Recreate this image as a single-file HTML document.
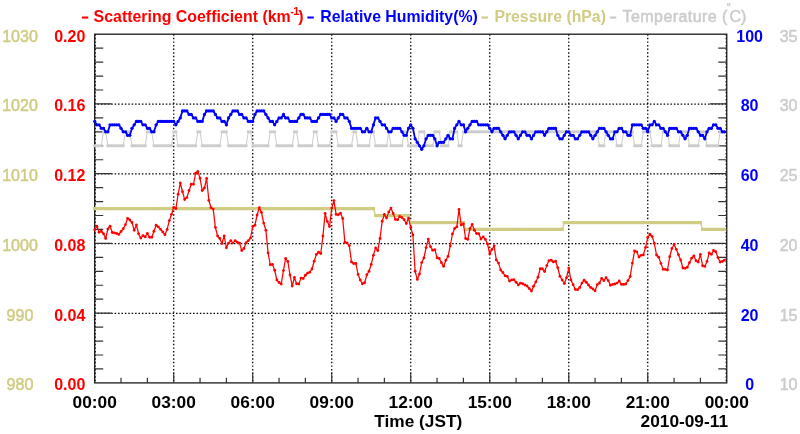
<!DOCTYPE html>
<html lang="en"><head><meta charset="utf-8"><title>Scattering Coefficient 2010-09-11</title>
<style>
html,body{margin:0;padding:0;background:#fff;}
body{width:800px;height:434px;overflow:hidden;}
svg{display:block;will-change:transform;}
text{font-family:"Liberation Sans",sans-serif;}
text:not([font-size]){font-size:16px;}
.b{font-weight:bold;}
.r{stroke-width:0.55px;}
text.x{font-size:17.3px;}
text.y{font-size:17px;}
tspan.d{font-size:11px;font-weight:bold;stroke-width:0.9px;}
</style></head><body>
<svg width="800" height="434" viewBox="0 0 800 434">
<rect width="800" height="434" fill="#fff"/>
<defs>
<marker id="mg" markerWidth="4" markerHeight="4" refX="2" refY="2" markerUnits="userSpaceOnUse"><rect x="0.6" y="0.6" width="2.8" height="2.8" fill="#cccccc"/></marker>
<marker id="mk" markerWidth="4" markerHeight="4" refX="2" refY="2" markerUnits="userSpaceOnUse"><rect x="0.35" y="0.35" width="3.3" height="3.3" fill="#d0cc84"/></marker>
<marker id="mb" markerWidth="4" markerHeight="4" refX="2" refY="2" markerUnits="userSpaceOnUse"><circle cx="2" cy="2" r="1.65" fill="#0000ff"/></marker>
<marker id="mr" markerWidth="4" markerHeight="4" refX="2" refY="2" markerUnits="userSpaceOnUse"><circle cx="2" cy="2" r="1.4" fill="#ff0000"/></marker>
</defs>
<path d="M95.2 34.2V382.9M173.71 34.2V382.9M252.71 34.2V382.9M331.72 34.2V382.9M410.72 34.2V382.9M489.73 34.2V382.9M568.74 34.2V382.9M647.74 34.2V382.9M726.25 34.2V382.9" stroke="#000" stroke-width="1.3" stroke-dasharray="1.45 2.15" fill="none"/>
<path d="M94.7 313.31H726.75M94.7 243.57H726.75M94.7 173.83H726.75M94.7 104.09H726.75" stroke="#000" stroke-width="1.3" stroke-dasharray="1.5 1.91" stroke-dashoffset="-2.88" fill="none"/>
<rect x="94.7" y="34.2" width="632.05" height="348.7" fill="none" stroke="#1a1a1a" stroke-width="1.3"/>
<path d="M94.7 368.95h8.5M726.75 368.95h-8.5M94.7 355h8.5M726.75 355h-8.5M94.7 341.06h8.5M726.75 341.06h-8.5M94.7 327.11h8.5M726.75 327.11h-8.5M94.7 313.16h17M726.75 313.16h-17M94.7 299.21h8.5M726.75 299.21h-8.5M94.7 285.26h8.5M726.75 285.26h-8.5M94.7 271.32h8.5M726.75 271.32h-8.5M94.7 257.37h8.5M726.75 257.37h-8.5M94.7 243.42h17M726.75 243.42h-17M94.7 229.47h8.5M726.75 229.47h-8.5M94.7 215.52h8.5M726.75 215.52h-8.5M94.7 201.58h8.5M726.75 201.58h-8.5M94.7 187.63h8.5M726.75 187.63h-8.5M94.7 173.68h17M726.75 173.68h-17M94.7 159.73h8.5M726.75 159.73h-8.5M94.7 145.78h8.5M726.75 145.78h-8.5M94.7 131.84h8.5M726.75 131.84h-8.5M94.7 117.89h8.5M726.75 117.89h-8.5M94.7 103.94h17M726.75 103.94h-17M94.7 89.99h8.5M726.75 89.99h-8.5M94.7 76.04h8.5M726.75 76.04h-8.5M94.7 62.1h8.5M726.75 62.1h-8.5M94.7 48.15h8.5M726.75 48.15h-8.5M121.04 382.9v-5.2M147.37 382.9v-5.2M173.71 382.9v-10.5M200.04 382.9v-5.2M226.38 382.9v-5.2M252.71 382.9v-10.5M279.05 382.9v-5.2M305.38 382.9v-5.2M331.72 382.9v-10.5M358.05 382.9v-5.2M384.39 382.9v-5.2M410.72 382.9v-10.5M437.06 382.9v-5.2M463.4 382.9v-5.2M489.73 382.9v-10.5M516.07 382.9v-5.2M542.4 382.9v-5.2M568.74 382.9v-10.5M595.07 382.9v-5.2M621.41 382.9v-5.2M647.74 382.9v-10.5M674.08 382.9v-5.2M700.41 382.9v-5.2" stroke="#333" stroke-width="1.2" fill="none"/>
<polyline points="94.7,145.78 96.89,145.78 99.09,145.78 101.28,145.78 103.48,131.84 105.67,131.84 107.87,145.78 110.06,145.78 112.26,145.78 114.45,145.78 116.65,145.78 118.84,145.78 121.04,145.78 123.23,145.78 125.42,131.84 127.62,131.84 129.81,131.84 132.01,145.78 134.2,145.78 136.4,145.78 138.59,145.78 140.79,145.78 142.98,145.78 145.18,145.78 147.37,131.84 149.57,131.84 151.76,131.84 153.95,145.78 156.15,145.78 158.34,145.78 160.54,145.78 162.73,145.78 164.93,145.78 167.12,145.78 169.32,145.78 171.51,145.78 173.71,131.84 175.9,131.84 178.1,145.78 180.29,145.78 182.48,145.78 184.68,145.78 186.87,145.78 189.07,145.78 191.26,145.78 193.46,145.78 195.65,145.78 197.85,131.84 200.04,131.84 202.24,145.78 204.43,145.78 206.63,145.78 208.82,145.78 211.01,145.78 213.21,145.78 215.4,145.78 217.6,145.78 219.79,145.78 221.99,131.84 224.18,131.84 226.38,131.84 228.57,145.78 230.77,145.78 232.96,145.78 235.16,145.78 237.35,145.78 239.54,145.78 241.74,145.78 243.93,145.78 246.13,145.78 248.32,131.84 250.52,131.84 252.71,145.78 254.91,145.78 257.1,145.78 259.3,145.78 261.49,145.78 263.69,145.78 265.88,145.78 268.07,145.78 270.27,131.84 272.46,131.84 274.66,131.84 276.85,145.78 279.05,145.78 281.24,145.78 283.44,145.78 285.63,145.78 287.83,145.78 290.02,145.78 292.22,145.78 294.41,131.84 296.6,131.84 298.8,145.78 300.99,145.78 303.19,145.78 305.38,145.78 307.58,145.78 309.77,145.78 311.97,145.78 314.16,131.84 316.36,131.84 318.55,145.78 320.75,145.78 322.94,145.78 325.13,145.78 327.33,145.78 329.52,145.78 331.72,131.84 333.91,131.84 336.11,131.84 338.3,145.78 340.5,145.78 342.69,145.78 344.89,145.78 347.08,145.78 349.28,145.78 351.47,145.78 353.66,131.84 355.86,131.84 358.05,145.78 360.25,145.78 362.44,145.78 364.64,145.78 366.83,145.78 369.03,145.78 371.22,131.84 373.42,131.84 375.61,145.78 377.81,145.78 380,145.78 382.19,145.78 384.39,145.78 386.58,145.78 388.78,131.84 390.97,145.78 393.17,145.78 395.36,145.78 397.56,145.78 399.75,145.78 401.95,145.78 404.14,131.84 406.34,131.84 408.53,145.78 410.72,145.78 412.92,145.78 415.11,145.78 417.31,145.78 419.5,131.84 421.7,131.84 423.89,131.84 426.09,145.78 428.28,145.78 430.48,145.78 432.67,145.78 434.87,131.84 437.06,131.84 439.26,131.84 441.45,145.78 443.64,145.78 445.84,145.78 448.03,145.78 450.23,131.84 452.42,131.84 454.62,131.84 456.81,131.84 459.01,145.78 461.2,145.78 463.4,131.84 465.59,131.84 467.79,131.84 469.98,131.84 472.17,131.84 474.37,131.84 476.56,131.84 478.76,131.84 480.95,131.84 483.15,131.84 485.34,131.84 487.54,131.84 489.73,131.84 491.93,131.84 494.12,131.84 496.32,131.84 498.51,131.84 500.7,131.84 502.9,131.84 505.09,131.84 507.29,131.84 509.48,131.84 511.68,131.84 513.87,131.84 516.07,131.84 518.26,131.84 520.46,131.84 522.65,131.84 524.85,131.84 527.04,131.84 529.23,131.84 531.43,131.84 533.62,131.84 535.82,131.84 538.01,131.84 540.21,131.84 542.4,131.84 544.6,131.84 546.79,131.84 548.99,131.84 551.18,131.84 553.38,131.84 555.57,131.84 557.76,131.84 559.96,131.84 562.15,131.84 564.35,131.84 566.54,131.84 568.74,131.84 570.93,131.84 573.13,131.84 575.32,131.84 577.52,131.84 579.71,131.84 581.91,131.84 584.1,131.84 586.29,131.84 588.49,131.84 590.68,131.84 592.88,131.84 595.07,131.84 597.27,131.84 599.46,145.78 601.66,145.78 603.85,145.78 606.05,131.84 608.24,131.84 610.44,131.84 612.63,131.84 614.82,131.84 617.02,145.78 619.21,145.78 621.41,145.78 623.6,131.84 625.8,131.84 627.99,131.84 630.19,131.84 632.38,131.84 634.58,145.78 636.77,145.78 638.97,145.78 641.16,145.78 643.35,131.84 645.55,131.84 647.74,131.84 649.94,131.84 652.13,145.78 654.33,145.78 656.52,145.78 658.72,145.78 660.91,145.78 663.11,131.84 665.3,131.84 667.5,131.84 669.69,145.78 671.88,145.78 674.08,145.78 676.27,145.78 678.47,145.78 680.66,131.84 682.86,131.84 685.05,131.84 687.25,131.84 689.44,145.78 691.64,145.78 693.83,145.78 696.03,145.78 698.22,145.78 700.41,131.84 702.61,131.84 704.8,131.84 707,145.78 709.19,145.78 711.39,145.78 713.58,145.78 715.78,145.78 717.97,145.78 720.17,131.84 722.36,131.84 724.56,131.84" fill="none" stroke="#cccccc" stroke-width="1.0" stroke-linejoin="round" marker-start="url(#mg)" marker-mid="url(#mg)" marker-end="url(#mg)"/>
<polyline points="94.7,208.55 96.89,208.55 99.09,208.55 101.28,208.55 103.48,208.55 105.67,208.55 107.87,208.55 110.06,208.55 112.26,208.55 114.45,208.55 116.65,208.55 118.84,208.55 121.04,208.55 123.23,208.55 125.42,208.55 127.62,208.55 129.81,208.55 132.01,208.55 134.2,208.55 136.4,208.55 138.59,208.55 140.79,208.55 142.98,208.55 145.18,208.55 147.37,208.55 149.57,208.55 151.76,208.55 153.95,208.55 156.15,208.55 158.34,208.55 160.54,208.55 162.73,208.55 164.93,208.55 167.12,208.55 169.32,208.55 171.51,208.55 173.71,208.55 175.9,208.55 178.1,208.55 180.29,208.55 182.48,208.55 184.68,208.55 186.87,208.55 189.07,208.55 191.26,208.55 193.46,208.55 195.65,208.55 197.85,208.55 200.04,208.55 202.24,208.55 204.43,208.55 206.63,208.55 208.82,208.55 211.01,208.55 213.21,208.55 215.4,208.55 217.6,208.55 219.79,208.55 221.99,208.55 224.18,208.55 226.38,208.55 228.57,208.55 230.77,208.55 232.96,208.55 235.16,208.55 237.35,208.55 239.54,208.55 241.74,208.55 243.93,208.55 246.13,208.55 248.32,208.55 250.52,208.55 252.71,208.55 254.91,208.55 257.1,208.55 259.3,208.55 261.49,208.55 263.69,208.55 265.88,208.55 268.07,208.55 270.27,208.55 272.46,208.55 274.66,208.55 276.85,208.55 279.05,208.55 281.24,208.55 283.44,208.55 285.63,208.55 287.83,208.55 290.02,208.55 292.22,208.55 294.41,208.55 296.6,208.55 298.8,208.55 300.99,208.55 303.19,208.55 305.38,208.55 307.58,208.55 309.77,208.55 311.97,208.55 314.16,208.55 316.36,208.55 318.55,208.55 320.75,208.55 322.94,208.55 325.13,208.55 327.33,208.55 329.52,208.55 331.72,208.55 333.91,208.55 336.11,208.55 338.3,208.55 340.5,208.55 342.69,208.55 344.89,208.55 347.08,208.55 349.28,208.55 351.47,208.55 353.66,208.55 355.86,208.55 358.05,208.55 360.25,208.55 362.44,208.55 364.64,208.55 366.83,208.55 369.03,208.55 371.22,208.55 373.42,208.55 375.61,215.52 377.81,215.52 380,215.52 382.19,215.52 384.39,215.52 386.58,215.52 388.78,215.52 390.97,215.52 393.17,215.52 395.36,215.52 397.56,215.52 399.75,215.52 401.95,215.52 404.14,215.52 406.34,215.52 408.53,215.52 410.72,222.5 412.92,222.5 415.11,222.5 417.31,222.5 419.5,222.5 421.7,222.5 423.89,222.5 426.09,222.5 428.28,222.5 430.48,222.5 432.67,222.5 434.87,222.5 437.06,222.5 439.26,222.5 441.45,222.5 443.64,222.5 445.84,222.5 448.03,222.5 450.23,222.5 452.42,222.5 454.62,222.5 456.81,222.5 459.01,222.5 461.2,222.5 463.4,222.5 465.59,229.47 467.79,229.47 469.98,229.47 472.17,229.47 474.37,229.47 476.56,229.47 478.76,229.47 480.95,229.47 483.15,229.47 485.34,229.47 487.54,229.47 489.73,229.47 491.93,229.47 494.12,229.47 496.32,229.47 498.51,229.47 500.7,229.47 502.9,229.47 505.09,229.47 507.29,229.47 509.48,229.47 511.68,229.47 513.87,229.47 516.07,229.47 518.26,229.47 520.46,229.47 522.65,229.47 524.85,229.47 527.04,229.47 529.23,229.47 531.43,229.47 533.62,229.47 535.82,229.47 538.01,229.47 540.21,229.47 542.4,229.47 544.6,229.47 546.79,229.47 548.99,229.47 551.18,229.47 553.38,229.47 555.57,229.47 557.76,229.47 559.96,229.47 562.15,229.47 564.35,222.5 566.54,222.5 568.74,222.5 570.93,222.5 573.13,222.5 575.32,222.5 577.52,222.5 579.71,222.5 581.91,222.5 584.1,222.5 586.29,222.5 588.49,222.5 590.68,222.5 592.88,222.5 595.07,222.5 597.27,222.5 599.46,222.5 601.66,222.5 603.85,222.5 606.05,222.5 608.24,222.5 610.44,222.5 612.63,222.5 614.82,222.5 617.02,222.5 619.21,222.5 621.41,222.5 623.6,222.5 625.8,222.5 627.99,222.5 630.19,222.5 632.38,222.5 634.58,222.5 636.77,222.5 638.97,222.5 641.16,222.5 643.35,222.5 645.55,222.5 647.74,222.5 649.94,222.5 652.13,222.5 654.33,222.5 656.52,222.5 658.72,222.5 660.91,222.5 663.11,222.5 665.3,222.5 667.5,222.5 669.69,222.5 671.88,222.5 674.08,222.5 676.27,222.5 678.47,222.5 680.66,222.5 682.86,222.5 685.05,222.5 687.25,222.5 689.44,222.5 691.64,222.5 693.83,222.5 696.03,222.5 698.22,222.5 700.41,222.5 702.61,229.47 704.8,229.47 707,229.47 709.19,229.47 711.39,229.47 713.58,229.47 715.78,229.47 717.97,229.47 720.17,229.47 722.36,229.47 724.56,229.47" fill="none" stroke="#d0cc84" stroke-width="1.3" stroke-linejoin="round" marker-start="url(#mk)" marker-mid="url(#mk)" marker-end="url(#mk)"/>
<polyline points="94.7,121.38 96.89,124.86 99.09,124.86 101.28,128.35 103.48,128.35 105.67,131.84 107.87,131.84 110.06,124.86 112.26,124.86 114.45,124.86 116.65,124.86 118.84,124.86 121.04,128.35 123.23,131.84 125.42,131.84 127.62,135.32 129.81,135.32 132.01,128.35 134.2,124.86 136.4,121.38 138.59,121.38 140.79,121.38 142.98,124.86 145.18,124.86 147.37,128.35 149.57,128.35 151.76,131.84 153.95,131.84 156.15,124.86 158.34,121.38 160.54,121.38 162.73,121.38 164.93,121.38 167.12,121.38 169.32,121.38 171.51,121.38 173.71,121.38 175.9,124.86 178.1,121.38 180.29,117.89 182.48,110.91 184.68,110.91 186.87,110.91 189.07,114.4 191.26,114.4 193.46,117.89 195.65,117.89 197.85,121.38 200.04,121.38 202.24,121.38 204.43,114.4 206.63,110.91 208.82,110.91 211.01,110.91 213.21,110.91 215.4,114.4 217.6,117.89 219.79,117.89 221.99,121.38 224.18,121.38 226.38,124.86 228.57,117.89 230.77,114.4 232.96,110.91 235.16,110.91 237.35,110.91 239.54,114.4 241.74,114.4 243.93,117.89 246.13,117.89 248.32,121.38 250.52,121.38 252.71,121.38 254.91,114.4 257.1,110.91 259.3,110.91 261.49,110.91 263.69,110.91 265.88,114.4 268.07,117.89 270.27,121.38 272.46,121.38 274.66,124.86 276.85,121.38 279.05,117.89 281.24,117.89 283.44,114.4 285.63,117.89 287.83,117.89 290.02,121.38 292.22,121.38 294.41,121.38 296.6,121.38 298.8,117.89 300.99,114.4 303.19,114.4 305.38,117.89 307.58,117.89 309.77,117.89 311.97,121.38 314.16,121.38 316.36,121.38 318.55,117.89 320.75,114.4 322.94,114.4 325.13,114.4 327.33,114.4 329.52,114.4 331.72,117.89 333.91,117.89 336.11,121.38 338.3,117.89 340.5,114.4 342.69,114.4 344.89,117.89 347.08,117.89 349.28,121.38 351.47,128.35 353.66,128.35 355.86,128.35 358.05,128.35 360.25,128.35 362.44,131.84 364.64,131.84 366.83,128.35 369.03,131.84 371.22,131.84 373.42,124.86 375.61,117.89 377.81,117.89 380,121.38 382.19,124.86 384.39,124.86 386.58,128.35 388.78,131.84 390.97,131.84 393.17,128.35 395.36,128.35 397.56,128.35 399.75,128.35 401.95,131.84 404.14,135.32 406.34,135.32 408.53,128.35 410.72,124.86 412.92,128.35 415.11,138.81 417.31,142.3 419.5,145.78 421.7,149.27 423.89,145.78 426.09,138.81 428.28,135.32 430.48,135.32 432.67,135.32 434.87,138.81 437.06,145.78 439.26,142.3 441.45,142.3 443.64,142.3 445.84,138.81 448.03,135.32 450.23,138.81 452.42,138.81 454.62,128.35 456.81,124.86 459.01,121.38 461.2,124.86 463.4,124.86 465.59,131.84 467.79,128.35 469.98,124.86 472.17,121.38 474.37,121.38 476.56,121.38 478.76,124.86 480.95,124.86 483.15,124.86 485.34,124.86 487.54,124.86 489.73,128.35 491.93,131.84 494.12,128.35 496.32,128.35 498.51,128.35 500.7,131.84 502.9,135.32 505.09,138.81 507.29,135.32 509.48,131.84 511.68,131.84 513.87,131.84 516.07,135.32 518.26,138.81 520.46,135.32 522.65,131.84 524.85,131.84 527.04,135.32 529.23,135.32 531.43,138.81 533.62,135.32 535.82,131.84 538.01,131.84 540.21,131.84 542.4,131.84 544.6,135.32 546.79,131.84 548.99,128.35 551.18,128.35 553.38,128.35 555.57,128.35 557.76,135.32 559.96,138.81 562.15,138.81 564.35,135.32 566.54,131.84 568.74,131.84 570.93,135.32 573.13,135.32 575.32,138.81 577.52,138.81 579.71,135.32 581.91,131.84 584.1,131.84 586.29,131.84 588.49,131.84 590.68,135.32 592.88,138.81 595.07,135.32 597.27,131.84 599.46,128.35 601.66,128.35 603.85,128.35 606.05,131.84 608.24,135.32 610.44,138.81 612.63,138.81 614.82,131.84 617.02,131.84 619.21,128.35 621.41,128.35 623.6,131.84 625.8,131.84 627.99,135.32 630.19,135.32 632.38,124.86 634.58,124.86 636.77,124.86 638.97,124.86 641.16,124.86 643.35,128.35 645.55,128.35 647.74,131.84 649.94,124.86 652.13,124.86 654.33,121.38 656.52,124.86 658.72,124.86 660.91,128.35 663.11,128.35 665.3,131.84 667.5,135.32 669.69,128.35 671.88,128.35 674.08,128.35 676.27,128.35 678.47,131.84 680.66,131.84 682.86,135.32 685.05,138.81 687.25,135.32 689.44,128.35 691.64,128.35 693.83,128.35 696.03,128.35 698.22,131.84 700.41,135.32 702.61,135.32 704.8,138.81 707,131.84 709.19,128.35 711.39,128.35 713.58,124.86 715.78,124.86 717.97,128.35 720.17,128.35 722.36,131.84 724.56,131.84" fill="none" stroke="#0000ff" stroke-width="1.8" stroke-linejoin="round" marker-start="url(#mb)" marker-mid="url(#mb)" marker-end="url(#mb)"/>
<polyline points="94.7,229.75 96.89,226.25 99.09,232.25 101.28,231.25 103.48,233.75 105.67,238.5 107.87,229 110.06,226.25 112.26,232.5 114.45,232.9 116.65,233.5 118.84,234.4 121.04,231.5 123.23,228.75 125.42,224.75 127.62,218.5 129.81,220 132.01,222.5 134.2,230.25 136.4,225 138.59,233.75 140.79,238.1 142.98,235.6 145.18,236.9 147.37,233.5 149.57,237.25 151.76,237.25 153.95,231.25 156.15,225.25 158.34,226.9 160.54,229.4 162.73,231.9 164.93,234.75 167.12,229.4 169.32,220.6 171.51,214.3 173.71,207.5 175.9,208.5 178.1,194.25 180.29,183 182.48,191.75 184.68,199.5 186.87,197.6 189.07,190.5 191.26,184.25 193.46,184.25 195.65,173.25 197.85,171.4 200.04,178.25 202.24,190.5 204.43,188 206.63,178.5 208.82,200.3 211.01,207.7 213.21,209.1 215.4,227.5 217.6,236 219.79,238.5 221.99,243.5 224.18,236 226.38,247.75 228.57,243.1 230.77,240.6 232.96,243.1 235.16,240.6 237.35,242.25 239.54,243.1 241.74,250.6 243.93,248.5 246.13,242.75 248.32,240.6 250.52,238.1 252.71,226.5 254.91,225.25 257.1,215 259.3,207.75 261.49,212.5 263.69,223.1 265.88,230.25 268.07,252.9 270.27,264.75 272.46,264.4 274.66,270.25 276.85,280 279.05,282.5 281.24,284 283.44,270.6 285.63,258.5 287.83,261.5 290.02,275 292.22,286 294.41,277.5 296.6,283.75 298.8,284 300.99,278.1 303.19,278.5 305.38,275.25 307.58,273.1 309.77,272.25 311.97,269 314.16,261.25 316.36,254.4 318.55,252.25 320.75,253.5 322.94,236 325.13,213.5 327.33,221.5 329.52,226.5 331.72,208.1 333.91,200.6 336.11,214.4 338.3,214.75 340.5,213.1 342.69,218.5 344.89,242.4 347.08,242.9 349.28,245.6 351.47,261.9 353.66,263.5 355.86,263.5 358.05,274.4 360.25,280 362.44,283.75 364.64,282.75 366.83,274.75 369.03,271.25 371.22,264.4 373.42,255.25 375.61,247.9 377.81,250.6 380,238.5 382.19,221.25 384.39,214.4 386.58,218.1 388.78,211.9 390.97,208.1 393.17,213.5 395.36,219.4 397.56,219.75 399.75,216.5 401.95,217.6 404.14,219.75 406.34,223.6 408.53,218.1 410.72,227.5 412.92,235 415.11,271.25 417.31,279.4 419.5,274 421.7,262.6 423.89,258 426.09,247.6 428.28,239.1 430.48,246.7 432.67,250.25 434.87,249.6 437.06,257.75 439.26,258.5 441.45,262.75 443.64,266.25 445.84,260.25 448.03,256.5 450.23,245.8 452.42,234 454.62,228.5 456.81,226.9 459.01,209.4 461.2,225 463.4,224 465.59,238.5 467.79,239.4 469.98,228.75 472.17,224.4 474.37,230.25 476.56,233.5 478.76,233.75 480.95,239 483.15,236.9 485.34,239.4 487.54,244 489.73,254 491.93,249.4 494.12,246 496.32,260 498.51,263.1 500.7,270 502.9,272.5 505.09,275.8 507.29,276.4 509.48,281.1 511.68,279.9 513.87,279.6 516.07,282.25 518.26,284.9 520.46,283.1 522.65,283.75 524.85,285 527.04,286 529.23,288.5 531.43,291 533.62,286.25 535.82,281.9 538.01,277.25 540.21,268.75 542.4,268.75 544.6,271.5 546.79,265.6 548.99,260.6 551.18,260.25 553.38,261.9 555.57,261.25 557.76,267.75 559.96,276.25 562.15,280 564.35,283.5 566.54,277.75 568.74,268.1 570.93,280 573.13,284.75 575.32,289.4 577.52,289.75 579.71,287.5 581.91,283.1 584.1,280.25 586.29,282.25 588.49,285 590.68,287.5 592.88,289 595.07,290.8 597.27,284.6 599.46,283 601.66,278.3 603.85,280.6 606.05,277.75 608.24,280.6 610.44,285.25 612.63,284.4 614.82,284 617.02,283.1 619.21,281 621.41,284.4 623.6,284.4 625.8,284 627.99,280.6 630.19,276.5 632.38,263.1 634.58,251 636.77,251.8 638.97,257.1 641.16,255.3 643.35,254.9 645.55,247.4 647.74,237.6 649.94,234.25 652.13,236.4 654.33,243.3 656.52,255 658.72,257.25 660.91,263.4 663.11,269.3 665.3,269.45 667.5,270 669.69,256.75 671.88,248.5 674.08,244.45 676.27,249.3 678.47,254.75 680.66,260 682.86,268 685.05,268.3 687.25,267.25 689.44,262.7 691.64,258.2 693.83,255.9 696.03,260.75 698.22,262 700.41,254.5 702.61,265.75 704.8,266.4 707,261.4 709.19,253 711.39,254.25 713.58,250.5 715.78,251.75 717.97,257.6 720.17,262 722.36,261.4 724.56,260.1" fill="none" stroke="#ff0000" stroke-width="1.25" stroke-linejoin="round" marker-start="url(#mr)" marker-mid="url(#mr)" marker-end="url(#mr)"/>
<text class="r y" transform="translate(20 390) scale(0.945 1)" text-anchor="middle" fill="#d0cc84" stroke="#d0cc84">980</text>
<text class="b y" transform="translate(69.8 390) scale(0.945 1)" text-anchor="middle" fill="#ff0000">0.00</text>
<text class="b y" transform="translate(749.6 390) scale(0.945 1)" text-anchor="middle" fill="#0000ff">0</text>
<text class="r y" transform="translate(788.6 390) scale(0.945 1)" text-anchor="middle" fill="#cccccc" stroke="#cccccc">10</text>
<text class="r y" transform="translate(20 321.11) scale(0.945 1)" text-anchor="middle" fill="#d0cc84" stroke="#d0cc84">990</text>
<text class="b y" transform="translate(69.8 321.11) scale(0.945 1)" text-anchor="middle" fill="#ff0000">0.04</text>
<text class="b y" transform="translate(749.6 321.11) scale(0.945 1)" text-anchor="middle" fill="#0000ff">20</text>
<text class="r y" transform="translate(788.6 321.11) scale(0.945 1)" text-anchor="middle" fill="#cccccc" stroke="#cccccc">15</text>
<text class="r y" transform="translate(20 251.22) scale(0.945 1)" text-anchor="middle" fill="#d0cc84" stroke="#d0cc84">1000</text>
<text class="b y" transform="translate(69.8 251.22) scale(0.945 1)" text-anchor="middle" fill="#ff0000">0.08</text>
<text class="b y" transform="translate(749.6 251.22) scale(0.945 1)" text-anchor="middle" fill="#0000ff">40</text>
<text class="r y" transform="translate(788.6 251.22) scale(0.945 1)" text-anchor="middle" fill="#cccccc" stroke="#cccccc">20</text>
<text class="r y" transform="translate(20 180.98) scale(0.945 1)" text-anchor="middle" fill="#d0cc84" stroke="#d0cc84">1010</text>
<text class="b y" transform="translate(69.8 180.98) scale(0.945 1)" text-anchor="middle" fill="#ff0000">0.12</text>
<text class="b y" transform="translate(749.6 180.98) scale(0.945 1)" text-anchor="middle" fill="#0000ff">60</text>
<text class="r y" transform="translate(788.6 180.98) scale(0.945 1)" text-anchor="middle" fill="#cccccc" stroke="#cccccc">25</text>
<text class="r y" transform="translate(20 111.49) scale(0.945 1)" text-anchor="middle" fill="#d0cc84" stroke="#d0cc84">1020</text>
<text class="b y" transform="translate(69.8 111.49) scale(0.945 1)" text-anchor="middle" fill="#ff0000">0.16</text>
<text class="b y" transform="translate(749.6 111.49) scale(0.945 1)" text-anchor="middle" fill="#0000ff">80</text>
<text class="r y" transform="translate(788.6 111.49) scale(0.945 1)" text-anchor="middle" fill="#cccccc" stroke="#cccccc">30</text>
<text class="r y" transform="translate(20 41.8) scale(0.945 1)" text-anchor="middle" fill="#d0cc84" stroke="#d0cc84">1030</text>
<text class="b y" transform="translate(69.8 41.8) scale(0.945 1)" text-anchor="middle" fill="#ff0000">0.20</text>
<text class="b y" transform="translate(749.6 41.8) scale(0.945 1)" text-anchor="middle" fill="#0000ff">100</text>
<text class="r y" transform="translate(788.6 41.8) scale(0.945 1)" text-anchor="middle" fill="#cccccc" stroke="#cccccc">35</text>
<text class="b x" x="94.7" y="408" text-anchor="middle" fill="#000">00:00</text>
<text class="b x" x="173.71" y="408" text-anchor="middle" fill="#000">03:00</text>
<text class="b x" x="252.71" y="408" text-anchor="middle" fill="#000">06:00</text>
<text class="b x" x="331.72" y="408" text-anchor="middle" fill="#000">09:00</text>
<text class="b x" x="410.72" y="408" text-anchor="middle" fill="#000">12:00</text>
<text class="b x" x="489.73" y="408" text-anchor="middle" fill="#000">15:00</text>
<text class="b x" x="568.74" y="408" text-anchor="middle" fill="#000">18:00</text>
<text class="b x" x="647.74" y="408" text-anchor="middle" fill="#000">21:00</text>
<text class="b x" x="726.75" y="408" text-anchor="middle" fill="#000">00:00</text>
<text class="b x" x="374.3" y="427.4" fill="#000">Time (JST)</text>
<text class="b x" x="728" y="427.4" text-anchor="end" fill="#000">2010-09-11</text>
<text class="b" font-size="15.92px" fill="#ff0000"><tspan class="d" x="85" y="21.25" text-anchor="middle" stroke="#ff0000">–</tspan><tspan x="93.6" y="22">Scattering Coefficient (km</tspan><tspan dy="-7" dx="-0.5" font-size="11px" letter-spacing="-0.7px">-1</tspan><tspan dy="7" dx="-0.3">)</tspan></text>
<text class="b" font-size="15.85px" fill="#0000ff"><tspan class="d" x="310.6" y="21.25" text-anchor="middle" stroke="#0000ff">–</tspan><tspan x="320.2" y="22">Relative Humidity(%)</tspan></text>
<text class="b" font-size="15.8px" fill="#d0cc84"><tspan class="d" x="484.7" y="21.25" text-anchor="middle" stroke="#d0cc84">–</tspan><tspan x="494.4" y="22">Pressure (hPa)</tspan></text>
<text class="r" font-size="16px" fill="#cccccc" stroke="#cccccc"><tspan class="d" x="613.1" y="21.25" text-anchor="middle" stroke="#cccccc">–</tspan><tspan x="622.6" y="22" letter-spacing="0.43px">Temperature (</tspan><tspan x="726.9" y="6.4" font-size="6px">o</tspan><tspan x="729.5" y="22">C)</tspan></text>
</svg></body></html>
